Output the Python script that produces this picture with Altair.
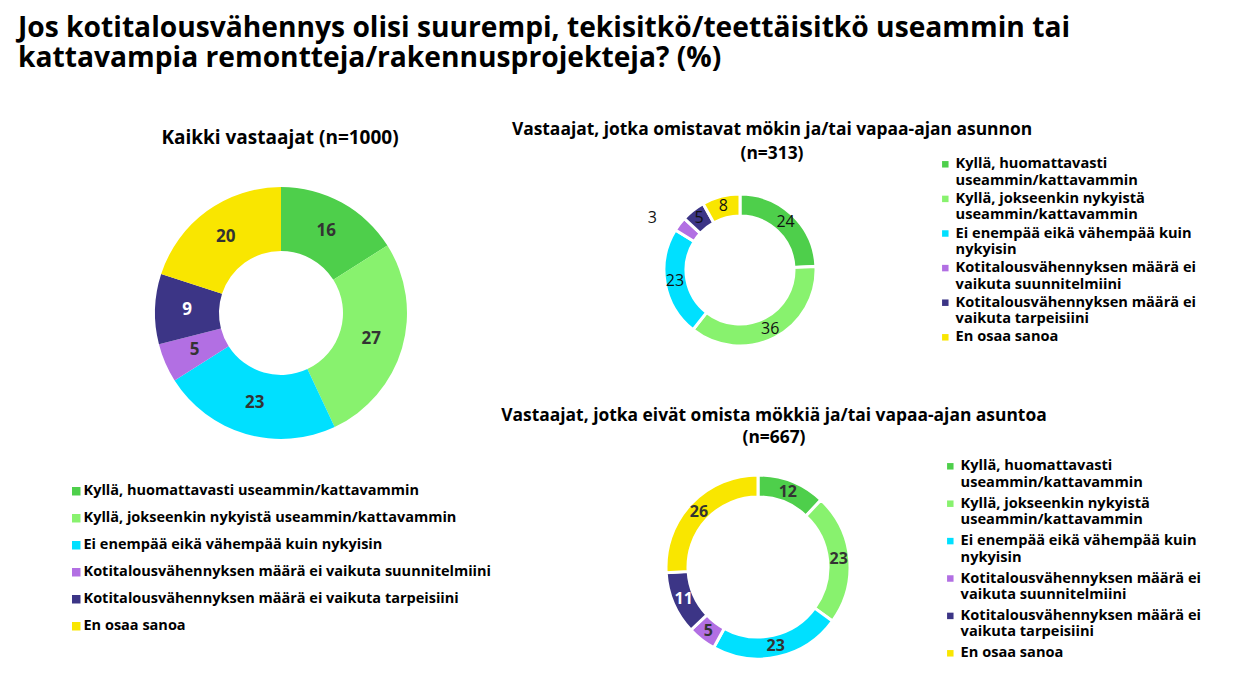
import altair as alt
import pandas as pd

# ---------------- data ----------------
categories = [
    "Kyllä, huomattavasti useammin/kattavammin",
    "Kyllä, jokseenkin nykyistä useammin/kattavammin",
    "Ei enempää eikä vähempää kuin nykyisin",
    "Kotitalousvähennyksen määrä ei vaikuta suunnitelmiini",
    "Kotitalousvähennyksen määrä ei vaikuta tarpeisiini",
    "En osaa sanoa",
]
wrapped_labels = [
    ["Kyllä, huomattavasti", "useammin/kattavammin"],
    ["Kyllä, jokseenkin nykyistä", "useammin/kattavammin"],
    ["Ei enempää eikä vähempää kuin", "nykyisin"],
    ["Kotitalousvähennyksen määrä ei", "vaikuta suunnitelmiini"],
    ["Kotitalousvähennyksen määrä ei", "vaikuta tarpeisiini"],
    ["En osaa sanoa"],
]
colors = ["#4ecf4b", "#88f26e", "#00e0ff", "#b26fe3", "#3c3586", "#f9e600"]

all_values = [16, 27, 23, 5, 9, 20]
owners_values = [24, 36, 23, 3, 5, 8]
nonowners_values = [12, 23, 23, 5, 11, 26]

title_lines = [
    "Jos kotitalousvähennys olisi suurempi, tekisitkö/teettäisitkö useammin tai",
    "kattavampia remontteja/rakennusprojekteja? (%)",
]
sub_all = ["Kaikki vastaajat (n=1000)"]
sub_owners = ["Vastaajat, jotka omistavat mökin ja/tai vapaa-ajan asunnon", "(n=313)"]
sub_non = ["Vastaajat, jotka eivät omista mökkiä ja/tai vapaa-ajan asuntoa", "(n=667)"]

FONT = "Open Sans, Noto Sans, sans-serif"


def frame(values):
    return pd.DataFrame({"cat": categories, "value": values, "ord": list(range(len(categories)))})


def wrap_expr():
    expr = "datum.label"
    for cat, lines in reversed(list(zip(categories, wrapped_labels))):
        arr = "[" + ", ".join("'" + l + "'" for l in lines) + "]"
        expr = f"datum.label == '{cat}' ? {arr} : ({expr})"
    return expr


color_scale = alt.Scale(domain=categories, range=colors)


def text_layer(lines, x, y, size, lh, align, weight="bold"):
    df = pd.DataFrame({"t": ["\n".join(lines)]})
    return alt.Chart(df).mark_text(
        lineBreak="\n", lineHeight=lh, align=align, baseline="middle",
        font=FONT, fontSize=size, fontWeight=weight, color="black",
    ).encode(text="t:N", x=alt.value(x), y=alt.value(y))


def donut(values, cx, cy, r_out, r_in, r_lab, legend, stroke_w, lab_size, lab_weight,
          white_cat=None, outside=None):
    df = frame(values)
    arc = alt.Chart(df).mark_arc(
        outerRadius=r_out, innerRadius=r_in, stroke="white", strokeWidth=stroke_w
    ).encode(
        theta=alt.Theta("value:Q", stack=True),
        color=alt.Color("cat:N", scale=color_scale, legend=legend),
        order=alt.Order("ord:Q"),
        x=alt.value(cx), y=alt.value(cy),
    )
    if white_cat is not None:
        tcol = alt.when(alt.datum.cat == white_cat).then(alt.value("white")).otherwise(alt.value("#333333"))
    else:
        tcol = alt.value("#111111")
    base = alt.Chart(df).encode(
        theta=alt.Theta("value:Q", stack=True),
        order=alt.Order("ord:Q"),
        text="lab:N",
        x=alt.value(cx), y=alt.value(cy),
        color=tcol,
    )
    mk = dict(font=FONT, fontSize=lab_size, fontWeight=lab_weight)
    if outside is None:
        txt = base.mark_text(radius=r_lab, **mk).transform_calculate(lab="format(datum.value, 'd')")
        return alt.layer(arc, txt)
    cat_out, r_out_lab, odx, ody = outside
    inner_txt = base.mark_text(radius=r_lab, **mk).transform_calculate(
        lab=f"datum.cat == '{cat_out}' ? '' : format(datum.value, 'd')")
    out_txt = base.mark_text(radius=r_out_lab, dx=odx, dy=ody, **mk).transform_calculate(
        lab=f"datum.cat == '{cat_out}' ? format(datum.value, 'd') : ''")
    return alt.layer(arc, inner_txt, out_txt)


legend_left = alt.Legend(
    orient="none", legendX=61, legendY=476, title=None, symbolType="square",
    symbolSize=72, symbolStrokeWidth=0, labelFont=FONT, labelFontSize=14.5,
    labelFontWeight="bold", labelColor="black", rowPadding=12, labelLimit=700,
    labelOffset=0, padding=0,
)


def legend_right(lx, ly, rp, off):
    return alt.Legend(
        orient="none", legendX=lx, legendY=ly, title=None, symbolType="square",
        symbolSize=42, symbolStrokeWidth=0, labelFont=FONT, labelFontSize=14.6,
        labelFontWeight="bold", labelColor="black", rowPadding=rp, labelLimit=700,
        labelOffset=off, padding=0, labelExpr=wrap_expr(),
    )


g_all = donut(all_values, 273, 305, 126, 62, 94, legend_left, 0, 17, "bold",
              white_cat=categories[4])
g_own = donut(owners_values, 732, 262, 76, 54, 66, legend_right(930, 149, 2.6, 3), 3, 16, "normal",
              outside=(categories[3], 100, -8, 9))
g_non = donut(nonowners_values, 750, 559, 92, 70, 81, legend_right(935, 451, 5.4, 3), 3, 16, "bold",
              white_cat=categories[4])

chart = alt.layer(
    text_layer(title_lines, 10, 21, 28.2, 30, "left"),
    text_layer(sub_all, 272, 130, 19, 20, "center"),
    text_layer(sub_owners, 764, 122, 17.4, 24, "center"),
    text_layer(sub_non, 766, 408, 17.4, 22, "center"),
    g_all, g_own, g_non,
).resolve_scale(color="independent", theta="independent").properties(
    width=1218, height=675, padding=0, autosize="none"
).configure_view(stroke=None)

chart.save("out.html", embed_options={"renderer": "svg", "actions": False})
